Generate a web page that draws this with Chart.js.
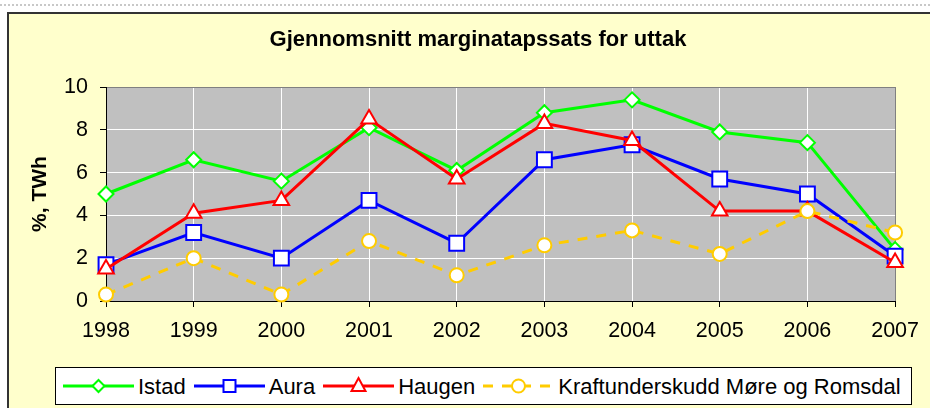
<!DOCTYPE html>
<html>
<head>
<meta charset="utf-8">
<script src="https://cdn.jsdelivr.net/npm/chart.js@4.4.1/dist/chart.umd.min.js"></script>
<style>
    html, body { margin: 0; padding: 0; width: 930px; height: 408px; overflow: hidden; background: #fff; }
    body { font-family: 'Liberation Sans', Arial, sans-serif; }
    #dots { position: absolute; left: 0; top: 4px; width: 930px; border-top: 2px dotted #c8c8c8; }
    #frame { position: absolute; left: 7px; top: 12px; width: 930px; height: 400px; background: #FFFFCC;
             border-left: 2px solid #333; border-top: 2px solid #333; }
    #chartTitle { position: absolute; left: 469px; top: 12px; transform: translateX(-50%); white-space: nowrap;
                  font-size: 22px; line-height: 25px; font-weight: bold; color: #000; }
    #chart { position: absolute; left: 0; top: 0; }
    #legend { position: absolute; left: 46px; top: 353px; width: 848px; height: 36px; background: #fff;
              border: 1px solid #000; display: flex; align-items: center; padding-left: 7px; box-sizing: content-box; }
    #legend .item { display: flex; align-items: center; margin-right: 8px; }
    #legend svg { display: block; }
    #legend span { margin-left: 4px; font-size: 22px; line-height: 25px; color: #000; white-space: nowrap; }
</style>
</head>
<body>
<div id="dots"></div>
<div id="frame">
    <canvas id="chart" width="921" height="394" style="width:921px;height:394px"></canvas>
    <div id="chartTitle">Gjennomsnitt marginatapssats for uttak</div>
    <div id="legend"></div>
</div>
<script>
    // Data
    const years = ['1998', '1999', '2000', '2001', '2002', '2003', '2004', '2005', '2006', '2007'];
    const istad = [5.0, 6.6, 5.6, 8.1, 6.1, 8.8, 9.4, 7.9, 7.4, 2.4];
    const aura = [1.7, 3.2, 2.0, 4.7, 2.7, 6.6, 7.3, 5.7, 5.0, 2.1];
    const haugen = [1.5, 4.1, 4.7, 8.5, 5.7, 8.3, 7.5, 4.2, 4.2, 1.8];
    const kraft = [0.3, 2.0, 0.3, 2.8, 1.2, 2.6, 3.3, 2.2, 4.2, 3.2];
    const yTicks = [0, 2, 4, 6, 8, 10];

    const FONT = "'Liberation Sans', Arial, sans-serif";

    // series: label, data, colour, marker, radius, dash, draw order (lower = on top)
    const series = [
        { label: 'Istad', data: istad, color: '#00FF00', marker: 'rectRot', radius: 7.5, dash: [], order: 4 },
        { label: 'Aura', data: aura, color: '#0000FF', marker: 'rect', radius: 10.5, dash: [], order: 3 },
        { label: 'Haugen', data: haugen, color: '#FF0000', marker: 'triangle', radius: 9, dash: [], order: 2 },
        { label: 'Kraftunderskudd Møre og Romsdal', data: kraft, color: '#FFCC00', marker: 'circle', radius: 7, dash: [10, 9], order: 1 }
    ];

    const datasets = series.map(s => ({
        label: s.label,
        data: s.data,
        borderColor: s.color,
        borderWidth: 3,
        borderDash: s.dash,
        tension: 0,
        pointStyle: s.marker,
        pointRadius: s.radius,
        pointBorderWidth: 2,
        pointBorderColor: s.color,
        pointBackgroundColor: '#FFFFFF',
        order: s.order,
        clip: false
    }));

    // Plot area background
    const plotBg = {
        id: 'plotBg',
        beforeDraw(chart) {
            const { ctx, chartArea: a } = chart;
            ctx.save();
            ctx.fillStyle = '#C0C0C0';
            ctx.fillRect(a.left, a.top, a.right - a.left, a.bottom - a.top);
            ctx.restore();
        }
    };

    new Chart(document.getElementById('chart'), {
        type: 'line',
        data: { labels: years, datasets: datasets },
        options: {
            responsive: false,
            animation: false,
            devicePixelRatio: 1,
            layout: { padding: { top: 73, right: 33, bottom: 0, left: 0 } },
            plugins: {
                legend: { display: false },
                title: { display: false },
                tooltip: { enabled: false }
            },
            scales: {
                x: {
                    offset: false,
                    grid: {
                        offset: false,
                        color: c => c.index === 0 ? '#000' : (c.index === years.length - 1 ? '#808080' : '#FFFFFF'),
                        tickColor: '#000',
                        tickLength: 6
                    },
                    border: { color: '#000', width: 1 },
                    ticks: { color: '#000', font: { family: FONT, size: 21.5 }, padding: 11, maxRotation: 0, autoSkip: false },
                    afterFit: s => { s.height = 107; }
                },
                y: {
                    min: 0,
                    max: 10,
                    afterBuildTicks: s => { s.ticks = yTicks.map(v => ({ value: v })); },
                    grid: {
                        color: c => (c.tick && c.tick.value === 0) ? '#000' : ((c.tick && c.tick.value === 10) ? '#808080' : '#FFFFFF'),
                        tickColor: '#000',
                        tickLength: 6
                    },
                    border: { color: '#000', width: 1 },
                    ticks: { color: '#000', font: { family: FONT, size: 21.5 }, padding: 12 },
                    title: {
                        display: true,
                        text: '%, TWh',
                        color: '#000',
                        font: { family: FONT, size: 21, weight: 'bold' },
                        padding: { top: 19, bottom: 0 }
                    },
                    afterFit: s => { s.width = 97; }
                }
            }
        },
        plugins: [plotBg]
    });

    // HTML legend: line with marker in the middle, like the original
    function markerSvg(s) {
        const cx = 35.5, cy = 11;
        const st = `fill="#fff" stroke="${s.color}" stroke-width="2"`;
        if (s.marker === 'rectRot') return `<polygon points="${cx - 6},${cy} ${cx},${cy - 6} ${cx + 6},${cy} ${cx},${cy + 6}" ${st}/>`;
        if (s.marker === 'rect') return `<rect x="${cx - 6}" y="${cy - 6}" width="12" height="12" ${st}/>`;
        if (s.marker === 'triangle') return `<polygon points="${cx},${cy - 8} ${cx + 7},${cy + 5} ${cx - 7},${cy + 5}" ${st}/>`;
        return `<circle cx="${cx}" cy="${cy}" r="6.5" ${st}/>`;
    }

    const legendDiv = document.getElementById('legend');
    series.forEach(s => {
        const item = document.createElement('div');
        item.className = 'item';
        const dash = s.dash.length ? `stroke-dasharray="${s.dash.join(' ')}"` : '';
        item.innerHTML =
            `<svg width="71" height="22" viewBox="0 0 71 22">` +
            `<line x1="0" y1="11" x2="71" y2="11" stroke="${s.color}" stroke-width="3" ${dash}/>` +
            markerSvg(s) + `</svg><span>${s.label}</span>`;
        legendDiv.appendChild(item);
    });
</script>
</body>
</html>
